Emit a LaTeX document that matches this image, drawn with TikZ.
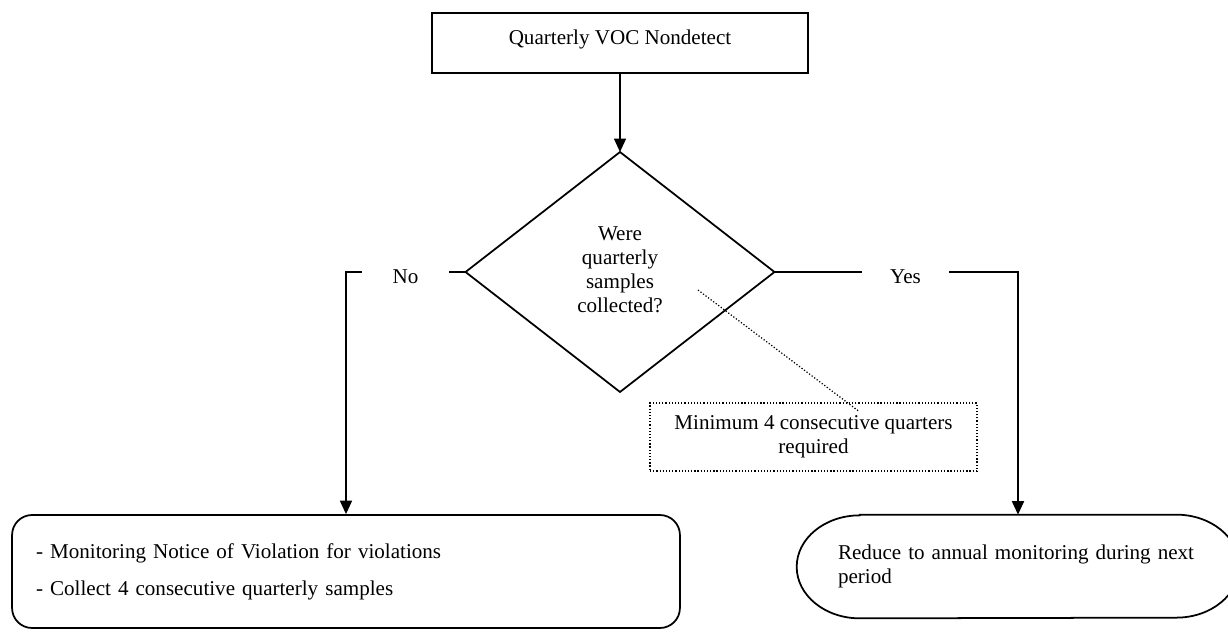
\documentclass[tikz,border=0pt]{standalone}
\usepackage{fontspec}
\setmainfont{Liberation Serif}
\usepackage{tikz}
\usetikzlibrary{arrows.meta,shapes,positioning}

\begin{document}
\begin{tikzpicture}[x=0.02cm,y=-0.02cm,
  every node/.style={font=\fontsize{12}{13.6}\selectfont},
  trait/.style={black,line width=1pt},
  pointille/.style={black,line width=0.7pt,dash pattern=on 0.7pt off 1.1pt},
  fleche/.style={trait,-{Triangle[length=0.27cm,width=0.24cm]}},
  boitedepart/.style={draw,trait,inner sep=0pt,minimum width=7.52cm,minimum height=1.2cm,text depth=7pt},
  losange/.style={draw,trait,diamond,inner sep=0pt,outer sep=0pt,minimum width=6.18cm,minimum height=4.8cm},
  etiquette/.style={inner sep=0pt,minimum width=1.74cm},
  boiteaction/.style={draw,trait,rounded corners=0.4cm,inner sep=0pt,minimum width=13.36cm,minimum height=2.26cm,text width=12.4cm,align=left},
  boitefin/.style={inner sep=0pt,minimum width=8.84cm,minimum height=2.06cm,text width=7.2cm,align=left},
  boitenote/.style={draw,pointille,inner sep=0pt,minimum width=6.54cm,minimum height=1.36cm,align=center}]

%Dimensions de la page
\useasboundingbox (0,0) rectangle (1228,632);

%Depart
\node[boitedepart] (depart) at (620,43) {Quarterly VOC Nondetect};

%Question
\node[losange] (question) at (620,272) {};
\node[align=center] (questiontexte) at (620,270) {Were\\quarterly\\samples\\collected?};
\draw[fleche] (depart) -- (question);

%Etiquettes No et Yes
\node[etiquette] (non) at (405.5,277) {No};
\node[etiquette] (oui) at (905.5,277) {Yes};

%Branche No
\node[boiteaction] (surveillance) at (346,571.5) {- Monitoring Notice of Violation for violations\\[7.4pt]- Collect 4 consecutive quarterly samples};
\draw[trait] (question.west) -- (question.west -| non.east);
\draw[fleche] (question.west -| non.west) -| (surveillance.north);

%Branche Yes
\node[boitefin] (annuel) at (1018,566.5) {Reduce to annual monitoring during next\\period};
\draw[trait] ([xshift=1.26cm]annuel.north west) -- ([xshift=-1.26cm]annuel.north east)
  arc[start angle=90,end angle=-90,x radius=1.26cm,y radius=1.03cm]
  -- ([xshift=1.26cm]annuel.south west)
  arc[start angle=270,end angle=90,x radius=1.26cm,y radius=1.03cm] -- cycle;
\draw[trait] (question.east) -- (question.east -| oui.west);
\draw[fleche] (question.east -| oui.east) -| (annuel.north);

%Note
\node[boitenote] (note) at (813.5,437) {Minimum 4 consecutive quarters\\required};
\coordinate (notedebut) at (698,290);
\coordinate (notefin) at ([xshift=0.91cm,yshift=-0.18cm]note.north);
\draw[pointille] (notedebut) -- (notefin);

\end{tikzpicture}
\end{document}
